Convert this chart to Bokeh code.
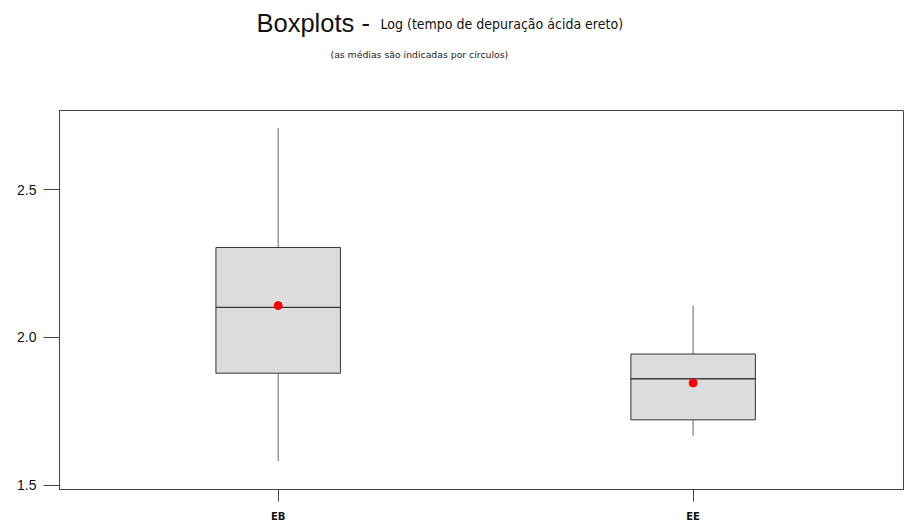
from bokeh.plotting import figure
from bokeh.models import FixedTicker, Range1d
from bokeh.layouts import column
from bokeh.core.properties import value
from bokeh.embed import file_html
from bokeh.resources import INLINE

categories = ["EB", "EE"]
positions = [1, 2]
whisker_low = [1.581, 1.667]
q1 = [1.879, 1.721]
median = [2.102, 1.860]
q3 = [2.305, 1.944]
whisker_high = [2.710, 2.108]
means = [2.108, 1.846]
y_ticks = [1.5, 2.0, 2.5]

title_main = "Boxplots -"
title_sub = "Log (tempo de depuração ácida ereto)"
subtitle = "(as médias são indicadas por círculos)"

W = 904
H1 = 80
H2 = 444

# header figure with the titles
top = figure(width=W, height=H1, output_backend="svg", toolbar_location=None,
             title_location=None, x_axis_location=None, y_axis_location=None,
             x_range=Range1d(59, 903), y_range=Range1d(H1, 0),
             min_border_left=59, min_border_right=1, min_border_top=0, min_border_bottom=0)
top.grid.visible = False
top.outline_line_color = None
top.text(x=[256], y=[22], text=[title_main], text_font=value("Liberation Sans"),
         text_font_size="25.5px", text_color="#111111", text_baseline="alphabetic")
top.text(x=[380], y=[23], text=[title_sub], text_font=value("DejaVu Sans Condensed"),
         text_font_size="14px", text_color="#111111", text_baseline="alphabetic")
top.text(x=[330], y=[54], text=[subtitle], text_font=value("DejaVu Sans"),
         text_font_size="9.3px", text_color="#222222", text_baseline="alphabetic")

p = figure(width=W, height=H2, output_backend="svg", toolbar_location=None,
           title_location=None,
           x_range=Range1d(0.473, 2.507), y_range=Range1d(1.485, 2.769),
           min_border_left=59, min_border_top=30, min_border_bottom=34, min_border_right=1)
p.xgrid.visible = False
p.ygrid.visible = False
p.outline_line_color = "#444444"
p.outline_line_width = 1

box_w = 0.30
p.segment(x0=positions, y0=whisker_low, x1=positions, y1=q1, line_color="#666666", line_width=1)
p.segment(x0=positions, y0=q3, x1=positions, y1=whisker_high, line_color="#666666", line_width=1)
p.vbar(x=positions, width=box_w, bottom=q1, top=q3, fill_color="#dcdcdc",
       line_color="#333333", line_width=1)
p.rect(x=positions, y=median, width=box_w, height=0.0001, fill_alpha=0,
       line_color="#333333", line_width=1)
p.scatter(x=positions, y=means, size=8, color="red")

p.yaxis.ticker = FixedTicker(ticks=y_ticks)
p.yaxis.major_label_overrides = {1.5: "1.5", 2.0: "2.0", 2.5: "2.5"}
p.yaxis.major_tick_out = 16
p.yaxis.major_tick_in = 0
p.yaxis.minor_tick_line_color = None
p.yaxis.major_label_standoff = 7
p.yaxis.major_label_text_font = "Liberation Sans"
p.yaxis.major_label_text_font_size = "14px"
p.yaxis.major_label_text_color = "#111111"
p.yaxis.axis_line_color = "#444444"
p.yaxis.major_tick_line_color = "#444444"

p.xaxis.ticker = FixedTicker(ticks=positions)
p.xaxis.major_label_overrides = {pos: c for pos, c in zip(positions, categories)}
p.xaxis.major_tick_out = 12
p.xaxis.major_tick_in = 0
p.xaxis.minor_tick_line_color = None
p.xaxis.major_label_standoff = 9
p.xaxis.major_label_text_font = "DejaVu Sans"
p.xaxis.major_label_text_font_style = "bold"
p.xaxis.major_label_text_font_size = "10px"
p.xaxis.major_label_text_color = "#111111"
p.xaxis.axis_line_color = "#444444"
p.xaxis.major_tick_line_color = "#444444"

layout = column(top, p, spacing=0)
open("out.html", "w").write(file_html(layout, INLINE))
